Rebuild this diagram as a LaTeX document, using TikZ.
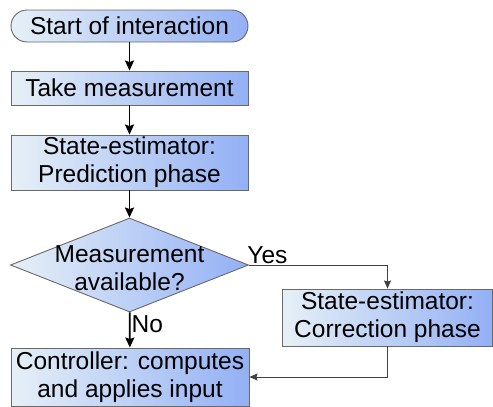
\documentclass[tikz,border=0pt]{standalone}
\usepackage{fontspec}
\setmainfont{Liberation Sans}
\usetikzlibrary{positioning,shapes.geometric,arrows.meta}
\definecolor{boxleft}{RGB}{230,240,246}
\definecolor{boxright}{RGB}{147,176,245}
\definecolor{boxline}{RGB}{105,105,105}
\tikzstyle{stage} = [draw=boxline, line width=0.9pt, left color=boxleft, right color=boxright, minimum width=237pt, align=center, inner sep=0pt]
\tikzstyle{decision} = [diamond, draw=boxline, line width=0.9pt, left color=boxleft, right color=boxright, inner sep=0pt, minimum width=238pt, minimum height=94pt]
\tikzstyle{flow} = [-{Stealth[length=10pt,width=9pt,inset=1.5pt]}, line width=1.7pt]
\tikzstyle{link} = [-{Stealth[length=8pt,width=7pt,inset=1pt]}, draw=black!75, line width=1pt]

\begin{document}
\begin{tikzpicture}[x=1pt, y=-1pt, every node/.style={font=\fontsize{24.5}{28}\selectfont}]
			\useasboundingbox (0,0) rectangle (493,407);
			\node[stage, rounded corners=16pt, minimum height=32pt] (start) at (129.5,26) {Start of interaction};
			\node[stage, minimum height=34pt] (meas) at (129.5,88) {Take measurement};
			\node[stage, minimum height=55pt] (pred) at (129.5,162.5) {State-estimator:\\Prediction phase};
			\node[decision] (avail) at (129.5,265) {};
			\node[align=center] (availtext) at (129.5,268) {Measurement\\available?};
			\node[stage, minimum width=210pt, minimum height=57pt] (corr) at (387.5,317.5) {State-estimator:\\Correction phase};
			\node[stage, minimum width=238pt, minimum height=58pt] (ctrl) at (130,377) {Controller: computes\\and applies input};
			\draw[flow] (start) -- (meas);
			\draw[flow] (meas) -- (pred);
			\draw[flow] (pred) -- (avail);
			\draw[flow] (avail) -- node[right, pos=0.35, inner sep=1pt] {No} (ctrl);
			\draw[link] (avail.east) -| node[pos=0, above right, inner sep=1pt, xshift=-3pt] {Yes} (corr);
			\draw[link] (corr) |- (ctrl);
		\end{tikzpicture}
\end{document}
